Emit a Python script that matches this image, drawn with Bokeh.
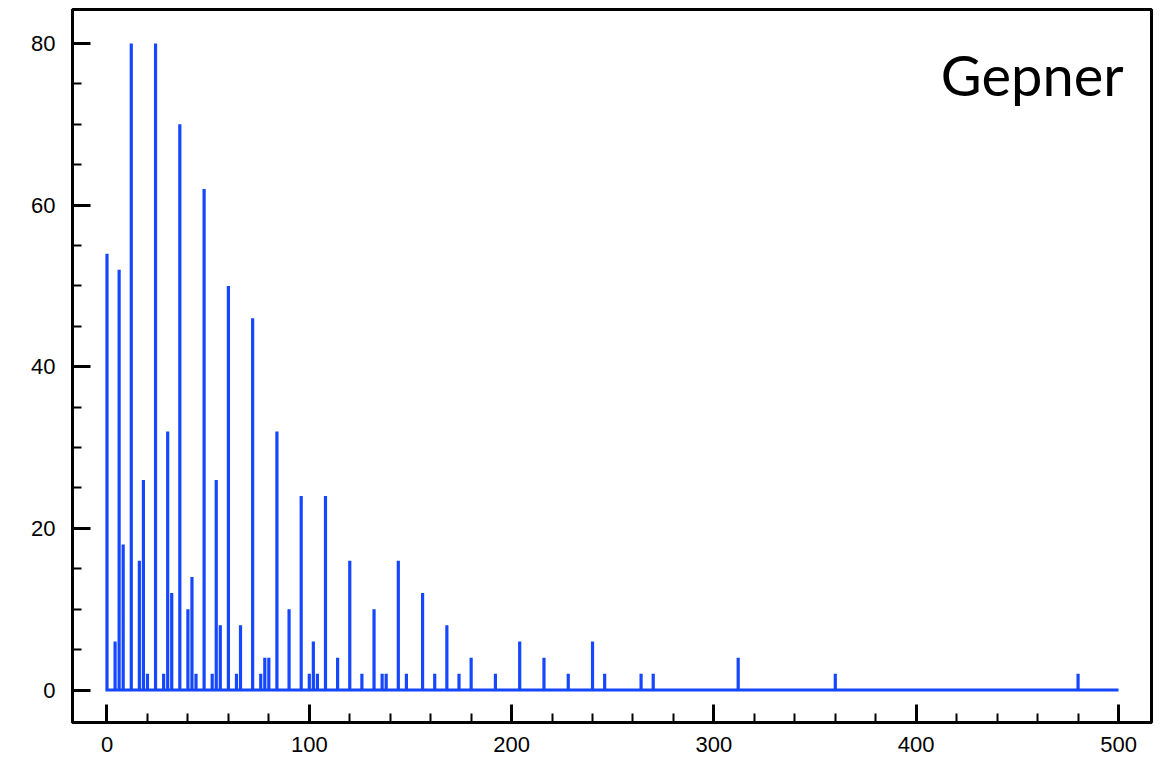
from bokeh.plotting import figure
from bokeh.models import Range1d, SingleIntervalTicker, Label
from bokeh.embed import file_html
from bokeh.resources import INLINE

# spike positions and counts
spike_x = [0, 4, 6, 8, 12, 16, 18, 20, 24, 28, 30, 32, 36, 40, 42, 44, 48, 52, 54, 56,
           60, 64, 66, 72, 76, 78, 80, 84, 90, 96, 100, 102, 104, 108, 114, 120, 126,
           132, 136, 138, 144, 148, 156, 162, 168, 174, 180, 192, 204, 216, 228, 240,
           246, 264, 270, 312, 360, 480]
spike_h = [54, 6, 52, 18, 80, 16, 26, 2, 80, 2, 32, 12, 70, 10, 14, 2, 62, 2, 26, 8,
           50, 2, 8, 46, 2, 4, 4, 32, 10, 24, 2, 6, 2, 24, 4, 16, 2,
           10, 2, 2, 16, 2, 12, 2, 8, 2, 4, 2, 6, 4, 2, 6,
           2, 2, 2, 4, 2, 2]
x_end = 500
label_text = "Gepner"

px = [0]
py = [0]
for x, h in zip(spike_x, spike_h):
    px += [x, x, x]
    py += [0, h, 0]
px.append(x_end)
py.append(0)

p = figure(width=1161, height=760, output_backend="svg", toolbar_location=None,
           x_range=Range1d(-17.05, 516.3), y_range=Range1d(-4.02, 84.21),
           min_border_left=72, min_border_right=10, min_border_top=9, min_border_bottom=38)
p.xgrid.visible = False
p.ygrid.visible = False
p.outline_line_color = "black"
p.outline_line_width = 3
p.background_fill_color = "white"
p.border_fill_color = "white"

p.line(px, py, line_color="#1447FF", line_width=3.2, line_join="miter")

p.xaxis.ticker = SingleIntervalTicker(interval=100, num_minor_ticks=5)
p.yaxis.ticker = SingleIntervalTicker(interval=20, num_minor_ticks=4)

for ax in (p.xaxis[0], p.yaxis[0]):
    ax.axis_line_width = 3
    ax.axis_line_color = "black"
    ax.major_tick_in = 18
    ax.major_tick_out = 0
    ax.minor_tick_in = 9
    ax.minor_tick_out = 0
    ax.major_tick_line_width = 3
    ax.minor_tick_line_width = 2
    ax.major_label_text_font = "Liberation Sans"
    ax.major_label_text_font_size = "22px"
    ax.major_label_text_color = "black"

p.xaxis.major_label_standoff = 14
p.yaxis.major_label_standoff = 17

p.add_layout(Label(x=502.5, y=76.2, text=label_text, text_font="Lato",
                   text_font_size="56px", text_align="right",
                   text_baseline="alphabetic", text_color="black"))

open("out.html", "w").write(file_html(p, INLINE))
